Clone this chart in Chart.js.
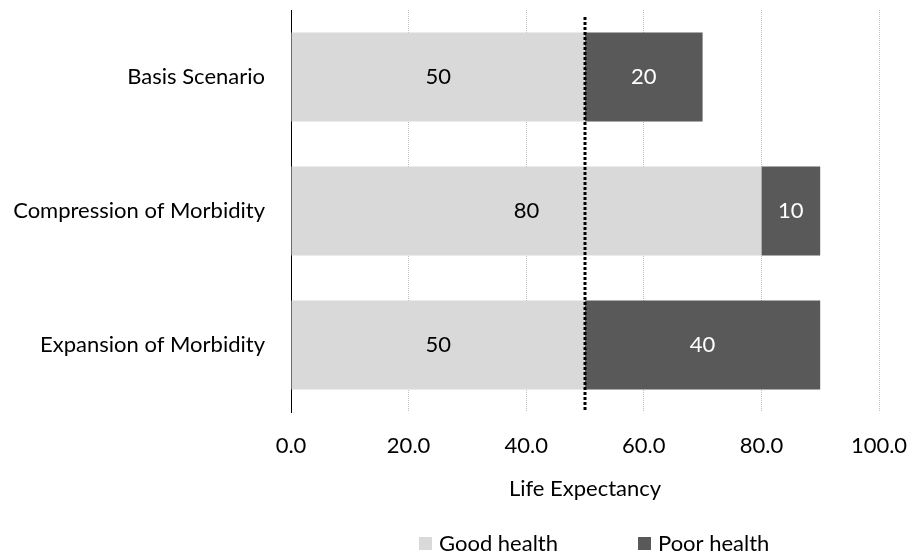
<!DOCTYPE html>
<html>
<head>
<meta charset="utf-8">
<script src="https://cdn.jsdelivr.net/npm/chart.js@4"></script>
<style>
  html, body { margin: 0; padding: 0; background: #fff; }
  #wrap { width: 909px; height: 555px; }
</style>
</head>
<body>
<div id="wrap"><canvas id="lifeChart"></canvas></div>
<script>
var scenarios = ['Basis Scenario', 'Compression of Morbidity', 'Expansion of Morbidity'];
var goodHealth = [50, 80, 50];
var poorHealth = [20, 10, 40];
var xTicks = [0, 20, 40, 60, 80, 100];
var markerValue = 50;

var FONT = 'Lato, "Open Sans", sans-serif';
var FONT_SIZE = 22;

// numbers written in the middle of every bar segment
var barLabels = {
    id: 'barLabels',
    afterDatasetsDraw: function (chart) {
        var ctx = chart.ctx;
        ctx.save();
        ctx.font = FONT_SIZE + 'px ' + FONT;
        ctx.textAlign = 'center';
        ctx.textBaseline = 'middle';
        chart.data.datasets.forEach(function (ds, i) {
            var meta = chart.getDatasetMeta(i);
            meta.data.forEach(function (bar, j) {
                var cx = (bar.x + bar.base) / 2;
                ctx.fillStyle = i === 0 ? '#000' : '#fff';
                ctx.fillText(ds.data[j], cx, bar.y);
            });
        });
        ctx.restore();
    }
};

// dotted reference line + legend below the axis title
var extras = {
    id: 'extras',
    afterDraw: function (chart) {
        var ctx = chart.ctx;
        var area = chart.chartArea;
        var x = Math.round(chart.scales.x.getPixelForValue(markerValue));
        ctx.save();
        ctx.strokeStyle = '#000';
        ctx.lineWidth = 3;
        ctx.setLineDash([3, 2]);
        ctx.beginPath();
        ctx.moveTo(x, area.top + 7);
        ctx.lineTo(x, area.bottom);
        ctx.stroke();
        ctx.setLineDash([]);

        // legend
        var mid = (area.left + area.right) / 2;
        var y = 543;
        ctx.font = FONT_SIZE + 'px ' + FONT;
        ctx.textBaseline = 'middle';
        ctx.textAlign = 'left';
        var starts = [mid - 166, mid + 53];
        chart.data.datasets.forEach(function (ds, i) {
            var bx = starts[i];
            ctx.fillStyle = ds.backgroundColor;
            ctx.fillRect(bx, y - 6, 13, 13);
            ctx.fillStyle = '#000';
            ctx.fillText(ds.label, bx + 20, y + 1);
        });
        ctx.restore();
    }
};

new Chart(document.getElementById('lifeChart').getContext('2d'), {
    type: 'bar',
    data: {
        labels: scenarios,
        datasets: [{
            label: 'Good health',
            data: goodHealth,
            backgroundColor: '#d9d9d9',
            barPercentage: 1,
            categoryPercentage: 0.665
        }, {
            label: 'Poor health',
            data: poorHealth,
            backgroundColor: '#595959',
            barPercentage: 1,
            categoryPercentage: 0.665
        }]
    },
    options: {
        indexAxis: 'y',
        responsive: true,
        maintainAspectRatio: false,
        animation: false,
        layout: { padding: { top: 10, right: 30, bottom: 48, left: 0 } },
        plugins: {
            legend: { display: false },
            tooltip: { enabled: false }
        },
        scales: {
            x: {
                stacked: true,
                min: 0,
                max: 100,
                afterBuildTicks: function (scale) {
                    scale.ticks = xTicks.map(function (v) { return { value: v }; });
                },
                afterFit: function (scale) {
                    scale.height = 95;
                    scale.paddingLeft = 0;
                    scale.paddingRight = 0;
                },
                grid: {
                    drawTicks: false,
                    color: function (c) { return c.tick && c.tick.value === 0 ? 'rgba(0,0,0,0)' : '#bfbfbf'; },
                    lineWidth: 1
                },
                border: { display: false, dash: [1, 1] },
                ticks: {
                    padding: 21,
                    color: '#000',
                    font: { family: FONT, size: FONT_SIZE },
                    callback: function (v) { return Number(v).toFixed(1); }
                },
                title: {
                    display: true,
                    text: 'Life Expectancy',
                    color: '#000',
                    font: { family: FONT, size: FONT_SIZE },
                    padding: { top: 0, bottom: 5 }
                }
            },
            y: {
                stacked: true,
                afterFit: function (scale) {
                    scale.width = 291;
                    scale.paddingTop = 0;
                    scale.paddingBottom = 0;
                },
                grid: { display: false },
                border: { display: true, color: '#000', width: 1 },
                ticks: {
                    padding: 18,
                    color: '#000',
                    font: { family: FONT, size: FONT_SIZE }
                }
            }
        }
    },
    plugins: [barLabels, extras]
});
</script>
</body>
</html>
